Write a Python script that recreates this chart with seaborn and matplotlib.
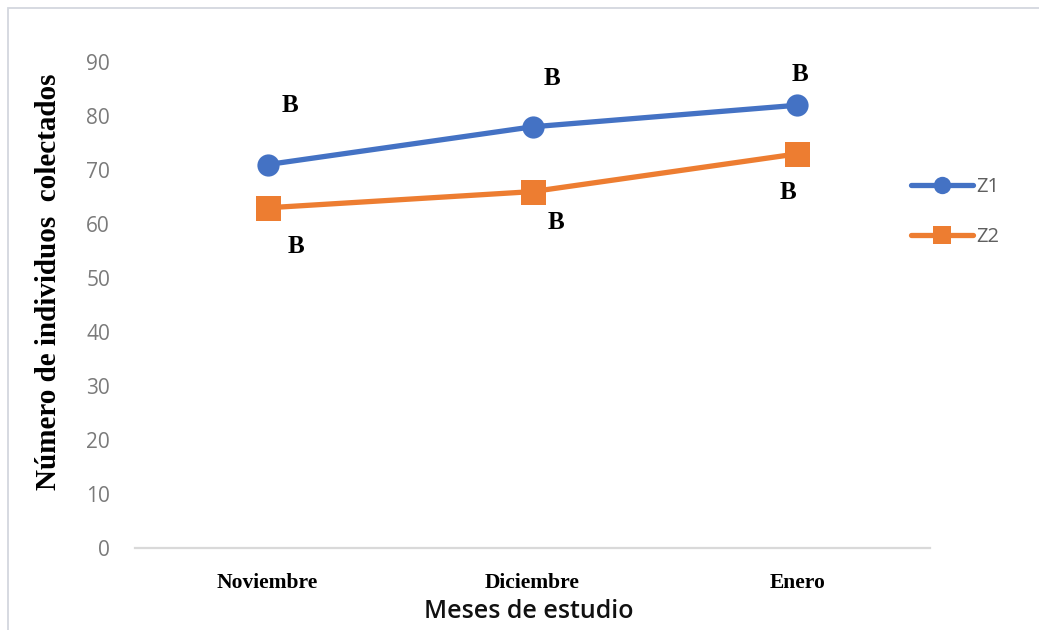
import matplotlib
matplotlib.use("Agg")
import matplotlib.pyplot as plt
import seaborn as sns
import pandas as pd
from matplotlib.patches import Rectangle

# ---- data ----
months = ["Noviembre", "Diciembre", "Enero"]
z1 = [71, 78, 82]
z2 = [63, 66, 73]
series_names = ["Z1", "Z2"]
letters_z1 = ["B", "B", "B"]
letters_z2 = ["B", "B", "B"]
y_ticks = [0, 10, 20, 30, 40, 50, 60, 70, 80, 90]

# label offsets in pixels (layout only)
off_z1 = [(22, 59), (19, 48), (3, 31)]
off_z2 = [(29, -39), (24, -31), (-9, -39)]

sns.set_theme(style="white")
plt.rcParams["font.family"] = ["Open Sans", "DejaVu Sans"]

W, H = 1039, 630
fig = plt.figure(figsize=(W / 100, H / 100), dpi=100)
ax = fig.add_axes([135 / W, 1 - 548 / H, (930 - 135) / W, (548 - 62) / H])

blue = "#4472C4"
orange = "#ED7D31"

df1 = pd.DataFrame({"mes": months, "n": z1})
df2 = pd.DataFrame({"mes": months, "n": z2})
sns.lineplot(data=df1, x="mes", y="n", sort=False, ax=ax, color=blue,
             linewidth=3.8, marker="o", markersize=16, markeredgewidth=0,
             label=series_names[0])
sns.lineplot(data=df2, x="mes", y="n", sort=False, ax=ax, color=orange,
             linewidth=3.8, marker="s", markersize=18, markeredgewidth=0,
             label=series_names[1])

ax.set_xlim(-0.5, len(months) - 0.5)
ax.set_ylim(0, 90)
ax.set_yticks(y_ticks)
ax.set_yticklabels([str(v) for v in y_ticks])

for s in ["top", "right", "left"]:
    ax.spines[s].set_visible(False)
ax.spines["bottom"].set_color("#d9d9d9")
ax.spines["bottom"].set_linewidth(1.6)

ax.tick_params(axis="y", length=0, pad=18, labelsize=15, labelcolor="#7a7a7a")
ax.tick_params(axis="x", length=0, pad=18)
for lab in ax.get_xticklabels():
    lab.set_fontfamily("Liberation Serif")
    lab.set_fontweight("bold")
    lab.set_fontsize(15.5)
    lab.set_color("black")

ax.set_xlabel("Meses de estudio", fontsize=18, color="#111111", va="center",
              fontweight="semibold")
ax.xaxis.set_label_coords((529 - 135) / 795, (548 - 612) / 486)
ax.set_ylabel("Número de individuos  colectados", fontsize=21,
              fontfamily="Liberation Serif", fontweight="bold", color="black",
              va="center")
ax.yaxis.set_label_coords((48 - 135) / 795, (548 - 282) / 486)

# letters
for i, m in enumerate(months):
    ax.annotate(letters_z1[i], (m, z1[i]), xytext=off_z1[i],
                textcoords="offset pixels", ha="center", va="center",
                fontfamily="Liberation Serif", fontweight="bold", fontsize=18,
                color="black")
    ax.annotate(letters_z2[i], (m, z2[i]), xytext=off_z2[i],
                textcoords="offset pixels", ha="center", va="center",
                fontfamily="Liberation Serif", fontweight="bold", fontsize=18,
                color="black")

leg = ax.legend(loc="center left", bbox_to_anchor=(911 / W, 1 - 212 / H),
                bbox_transform=fig.transFigure, frameon=False, fontsize=14.5,
                handlelength=3.1, handletextpad=0.15, labelspacing=1.5,
                borderpad=0, borderaxespad=0)
for t in leg.get_texts():
    t.set_color("#5f5f5f")
for h in leg.legend_handles:
    h.set_markersize(12.5)

# outer frame
fig.patches.append(Rectangle((8 / W, -0.1), 1.2, 1.1 - 8 / H,
                             transform=fig.transFigure, fill=False,
                             edgecolor="#d3d7de", linewidth=1.3))

fig.savefig("out.png", dpi=100)
